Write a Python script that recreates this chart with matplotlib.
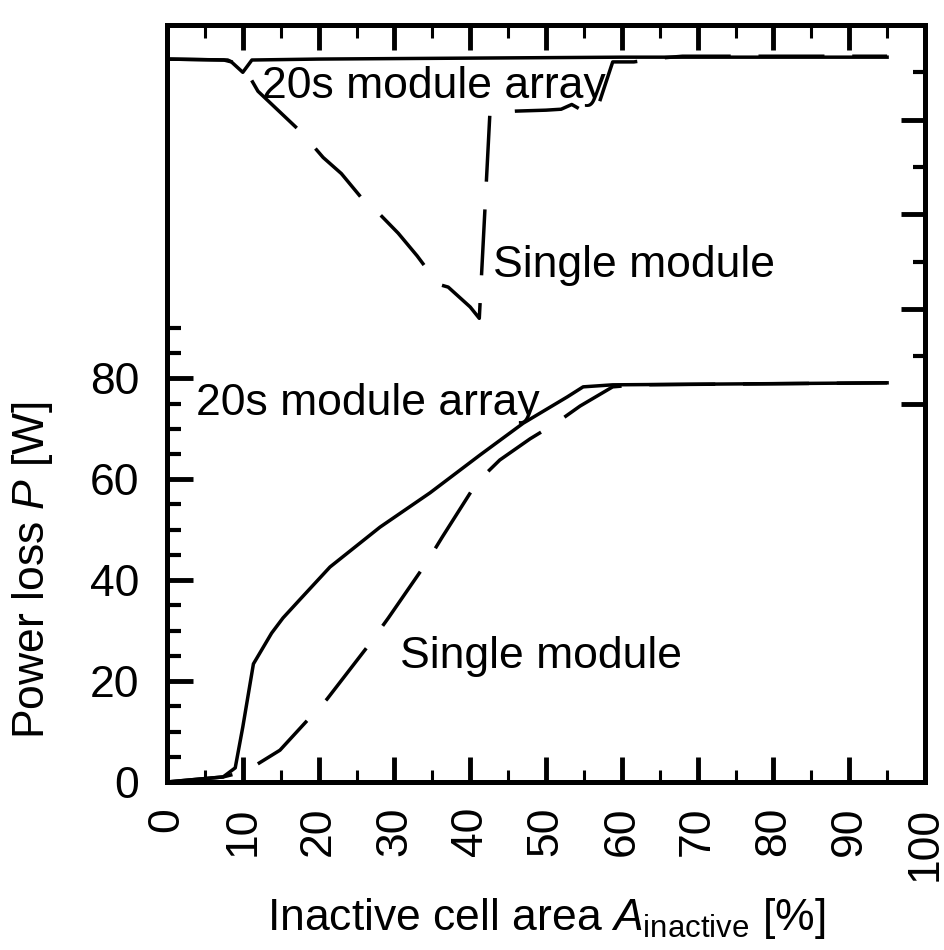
import numpy as np
import matplotlib.pyplot as plt
from matplotlib.ticker import FixedLocator, NullFormatter

plt.rcParams['font.family'] = ['Liberation Sans', 'DejaVu Sans']
plt.rcParams['mathtext.fontset'] = 'custom'
plt.rcParams['mathtext.rm'] = 'Liberation Sans'
plt.rcParams['mathtext.it'] = 'Liberation Sans:italic'

# lower panel: power loss [W] vs inactive cell area [%]
area_array = [0, 7.4, 9.0, 10.0, 11.4, 13.8, 15.3, 17.5, 21.5, 28.1, 34.7, 41.3,
              47.0, 52.8, 54.9, 58.8, 95]
loss_array = [0, 1.0, 2.8, 10.9, 23.4, 29.5, 32.5, 36.1, 42.6, 50.5, 57.3, 64.8,
              71.1, 76.3, 78.3, 78.7, 79.1]

area_single = [0, 7.4, 9.0, 10.7, 14.9, 18.2, 21.1, 26.8, 29.2, 34.3, 36.3, 40.9,
               43.9, 47.9, 51.5, 54.5, 58.8, 62.0, 95]
loss_single = [0, 1.0, 1.6, 2.4, 6.3, 11.7, 16.4, 27.5, 32.5, 43.6, 48.5, 59.4,
               63.8, 68.0, 71.3, 74.5, 78.3, 78.7, 79.1]

# upper panel (right axis, unlabeled)
area_array_up = [0, 7.5, 8.5, 10.0, 11.2, 20, 40, 60, 95]
val_array_up = [36.4, 36.3, 36.1, 35.0, 36.3, 36.4, 36.5, 36.6, 36.6]

area_single_up = [0, 8, 10.2, 12.0, 17.8, 20.6, 23.0, 26.0, 27.7, 30.5, 33.0, 35.8,
                  37.1, 40.0, 41.2, 42.6, 46.0, 50.0, 52.0, 53.4, 54.5, 56.7, 58.8,
                  61.6, 65.0, 68.0, 95]
val_single_up = [36.4, 36.3, 35.5, 33.0, 28.6, 26.0, 24.3, 21.4, 20.3, 18.0, 15.6, 12.6,
                 12.3, 10.2, 9.0, 30.7, 30.9, 31.0, 31.1, 31.6, 31.1, 31.0, 36.1,
                 36.1, 36.5, 36.7, 36.7]

xticks = np.arange(0, 101, 10)
yticks = [0, 20, 40, 60, 80]

fig = plt.figure(figsize=(9.44, 9.5), dpi=100)
ax = fig.add_axes([167 / 944, 1 - 782 / 950, 758 / 944, 757 / 950])
ax2 = ax.twinx()

lw = 2.5
dash = (0, (19, 8))
ax.plot(area_array, loss_array, color='black', lw=lw)
ax.plot(area_single, loss_single, color='black', lw=lw, ls=dash)
ax2.plot(area_array_up, val_array_up, color='black', lw=lw)
ax2.plot(area_single_up, val_single_up, color='black', lw=lw, ls=dash)

ax.set_xlim(0, 100)
ax.set_ylim(0, 150)
ax2.set_ylim(-40, 40)

ax.set_xticks(xticks)
ax.set_xticklabels([str(v) for v in xticks], rotation=90)
ax.xaxis.set_minor_locator(FixedLocator(np.arange(5, 100, 10)))
ax.set_yticks(yticks)
ax.yaxis.set_minor_locator(FixedLocator([5, 10, 15, 25, 30, 35, 45, 50, 55, 65, 70, 75, 85, 90]))

ax2.yaxis.set_major_locator(FixedLocator([0, 10, 20, 30]))
ax2.yaxis.set_minor_locator(FixedLocator([5, 15, 25, 35]))
ax2.yaxis.set_major_formatter(NullFormatter())

ax.tick_params(axis='x', which='both', direction='in', top=True, bottom=True)
ax.tick_params(axis='x', which='major', length=18, width=3.5, pad=18, labelsize=32)
ax.tick_params(axis='x', which='minor', length=9, width=2.2)
ax.tick_params(axis='y', which='both', direction='in', left=True, right=False)
ax.tick_params(axis='y', which='major', length=19, width=3.5, pad=20, labelsize=32)
ax.tick_params(axis='y', which='minor', length=10, width=3.0)
ax2.tick_params(axis='y', which='both', direction='in', left=False, right=True,
                labelright=False)
ax2.tick_params(axis='y', which='major', length=17, width=3.5)
ax2.tick_params(axis='y', which='minor', length=9, width=3.0)

for a in (ax, ax2):
    for s in a.spines.values():
        s.set_linewidth(3.6)

fs = 32
ax.text(12.5, 135.5, '20s module array', fontsize=fs)
ax.text(43.0, 100.1, 'Single module', fontsize=fs)
ax.text(3.8, 72.7, '20s module array', fontsize=fs)
ax.text(30.7, 22.6, 'Single module', fontsize=fs)

fig.text(546 / 944, 1 - 930 / 950, r'Inactive cell area $A_{\mathrm{inactive}}$ [%]',
         fontsize=fs, ha='center', va='baseline')
fig.text(33 / 944, 1 - 570 / 950, r'Power loss $\mathit{P}$ [W]', fontsize=fs,
         rotation=90, ha='center', va='center')

plt.savefig('out.png', dpi=100)
